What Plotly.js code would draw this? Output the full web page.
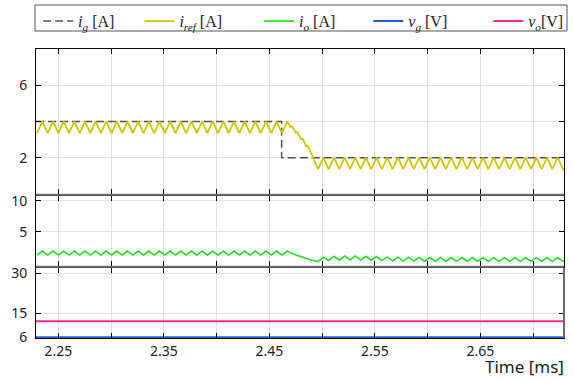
<!DOCTYPE html>
<html><head><meta charset="utf-8">
<script src="https://cdn.plot.ly/plotly-3.0.1.min.js"></script>
<style>html,body{margin:0;padding:0;background:#fff}#chart{width:573px;height:381px}</style>
</head><body><div id="chart"></div>
<script>
// time axis [ms] for the switching waveforms
const time = [2.2299,2.2349,2.2400,2.2450,2.2501,2.2551,2.2602,2.2652,2.2703,2.2753,2.2804,2.2854,2.2904,2.2954,2.3005,2.3055,2.3106,2.3156,2.3207,2.3257,2.3308,2.3358,2.3409,2.3459,2.3510,2.3560,2.3611,2.3661,2.3712,2.3762,2.3813,2.3863,2.3913,2.3963,2.4014,2.4064,2.4115,2.4165,2.4216,2.4266,2.4317,2.4367,2.4418,2.4468,2.4519,2.4569,2.4620,2.4670,
 2.4700,2.4715,2.4750,2.4765,2.4800,2.4815,2.4850,2.4865,2.4900,2.4917,2.4962,
 2.5012,2.5063,2.5113,2.5164,2.5214,2.5265,2.5315,2.5366,2.5416,2.5466,2.5517,2.5567,2.5618,2.5668,2.5719,2.5769,2.5820,2.5870,2.5921,2.5971,2.6022,2.6072,2.6123,2.6173,2.6224,2.6274,2.6324,2.6375,2.6425,2.6475,2.6526,2.6576,2.6627,2.6677,2.6728,2.6778,2.6829,2.6879,2.6930,2.6980,2.7031,2.7081,2.7132,2.7182,2.7233,2.7283,2.7293];
// i_ref [A]
const iRef = [3.36,4.00,3.36,4.00,3.36,4.00,3.36,4.00,3.36,4.00,3.36,4.00,3.36,4.00,3.36,4.00,3.36,4.00,3.36,4.00,3.36,4.00,3.36,4.00,3.36,4.00,3.36,4.00,3.36,4.00,3.36,4.00,3.36,4.00,3.36,4.00,3.36,4.00,3.36,4.00,3.36,4.00,3.36,4.00,3.36,4.00,3.36,4.00,
 3.70,3.73,3.38,3.41,3.03,3.06,2.64,2.66,2.20,1.95,1.37,
 2.00,1.37,2.00,1.37,2.00,1.37,2.00,1.37,2.00,1.37,2.00,1.37,2.00,1.37,2.00,1.37,2.00,1.37,2.00,1.37,2.00,1.37,2.00,1.37,2.00,1.37,2.00,1.37,2.00,1.37,2.00,1.37,2.00,1.37,2.00,1.37,2.00,1.37,2.00,1.37,2.00,1.37,2.00,1.37,2.00,1.37,1.45];
// i_o [A]
const iO = [1.20,1.85,1.20,1.85,1.20,1.85,1.20,1.85,1.20,1.85,1.20,1.85,1.20,1.85,1.20,1.85,1.20,1.85,1.20,1.85,1.20,1.85,1.20,1.85,1.20,1.85,1.20,1.85,1.20,1.85,1.20,1.85,1.20,1.85,1.20,1.85,1.20,1.85,1.20,1.85,1.20,1.85,1.20,1.85,1.20,1.85,1.20,1.85,
 1.55,1.42,1.25,1.12,0.95,0.85,0.58,0.48,0.36,0.30,0.13,
 0.85,0.30,1.00,0.35,1.05,0.40,1.05,0.40,1.00,0.35,0.95,0.30,0.90,0.25,0.85,0.22,0.85,0.22,0.82,0.20,0.80,0.20,0.80,0.18,0.78,0.18,0.78,0.18,0.78,0.18,0.78,0.17,0.77,0.17,0.77,0.17,0.77,0.17,0.77,0.17,0.77,0.17,0.77,0.17,0.77,0.17,0.25];
// i_g [A] (step)
const tG = [2.2289,2.4617,2.4617,2.7293];
const iG = [4,4,2,2];
// voltages [V]
const tV = [2.2289,2.7293];
const vG = [6,6];
const vO = [12,12];
// tick labels
const xTicks = [2.25,2.30,2.35,2.40,2.45,2.50,2.55,2.60,2.65,2.70];
const xTickText = ['2.25','','2.35','','2.45','','2.55','','2.65',''];
const y1Ticks = [2,4,6]; const y1Text = ['2','','6'];
const y2Ticks = [5,10];
const y3Ticks = [6,15,30];
// legend names
const nb = n => '\u00A0'.repeat(n);
const names = ['<i>i</i><sub><i>g</i></sub> [A]' + nb(5), '<i>i</i><sub><i>ref</i></sub> [A]' + nb(8),
  '<i>i</i><sub><i>o</i></sub> [A]' + nb(7), '<i>v</i><sub><i>g</i></sub> [V]' + nb(9), '<i>v</i><sub><i>o</i></sub>[V]'];

const xr = [2.2289, 2.7293];
const axBase = {range: xr, showline: true, linecolor: '#000', linewidth: 1, mirror: 'ticks',
  ticks: 'inside', ticklen: 5, tickcolor: '#000', showgrid: true, gridcolor: '#e2e2e2', gridwidth: 1,
  zeroline: false, tickvals: xTicks, ticktext: xTickText, fixedrange: true};
const yBase = {showline: true, linecolor: '#000', linewidth: 1, mirror: 'ticks', ticks: 'inside', ticklen: 5,
  tickcolor: '#000', showgrid: true, gridcolor: '#e2e2e2', gridwidth: 1, zeroline: false, fixedrange: true,
  ticklabelstandoff: 5, tickfont: {family: 'Noto Sans', size: 14, color: '#222'}};

const traces = [
  {x: tG, y: iG, name: names[0], mode: 'lines', xaxis: 'x', yaxis: 'y',
   line: {color: '#505050', width: 1.5, dash: '8px,4px'}},
  {x: time, y: iRef, name: names[1], mode: 'lines', xaxis: 'x', yaxis: 'y',
   line: {color: '#cfc800', width: 1.8}},
  {x: time, y: iO, name: names[2], mode: 'lines', xaxis: 'x2', yaxis: 'y2',
   line: {color: '#22e022', width: 1.6}},
  {x: tV, y: vG, name: names[3], mode: 'lines', xaxis: 'x3', yaxis: 'y3',
   line: {color: '#1f5fd6', width: 2}},
  {x: tV, y: vO, name: names[4], mode: 'lines', xaxis: 'x3', yaxis: 'y3',
   line: {color: '#ff2d90', width: 2}}
];

const layout = {
  width: 573, height: 381,
  margin: {l: 36, r: 9, t: 49, b: 43, autoexpand: false},
  paper_bgcolor: '#fff', plot_bgcolor: '#fff',
  font: {family: 'Noto Sans', size: 14, color: '#222'},
  showlegend: true,
  legend: {orientation: 'h', x: 0.004, xanchor: 'left', y: 1.155, yanchor: 'top',
    borderwidth: 0, bgcolor: 'rgba(0,0,0,0)',
    font: {family: 'Liberation Serif', size: 16, color: '#222'}},
  xaxis: Object.assign({}, axBase, {anchor: 'y', showticklabels: false}),
  xaxis2: Object.assign({}, axBase, {anchor: 'y2', matches: 'x', showticklabels: false}),
  xaxis3: Object.assign({}, axBase, {anchor: 'y3', matches: 'x',
    tickfont: {family: 'Noto Sans', size: 14, color: '#222'}}),
  yaxis: Object.assign({}, yBase, {domain: [0.4983, 1], range: [0, 8], tickvals: y1Ticks, ticktext: y1Text}),
  yaxis2: Object.assign({}, yBase, {domain: [0.2491, 0.4913], range: [-0.59, 10.81], tickvals: y2Ticks}),
  yaxis3: Object.assign({}, yBase, {domain: [0, 0.2422], range: [5.74, 32], tickvals: y3Ticks}),
  shapes: [
    {type: 'rect', xref: 'paper', yref: 'paper', x0: -0.0019, x1: 1.0057, y0: 1.0623, y1: 1.1522,
     line: {color: '#555', width: 1}, fillcolor: 'rgba(0,0,0,0)', layer: 'above'},
    {type: 'line', xref: 'paper', yref: 'paper', x0: 0, x1: 1, y0: 0.4955, y1: 0.4955,
     line: {color: '#707070', width: 2}, layer: 'above'},
    {type: 'line', xref: 'paper', yref: 'paper', x0: 0, x1: 1, y0: 0.2464, y1: 0.2464,
     line: {color: '#707070', width: 2}, layer: 'above'},
    {type: 'line', xref: 'paper', yref: 'paper', x0: 1, x1: 1, y0: 0, y1: 0.2422,
     line: {color: '#6a6a6a', width: 2}, layer: 'above'}
  ],
  annotations: [
    {text: 'Time [ms]', xref: 'paper', yref: 'paper', x: 1.004, y: -0.1, xanchor: 'right', yanchor: 'middle',
     showarrow: false, font: {family: 'Noto Sans', size: 17, color: '#222'}}
  ]
};

Plotly.newPlot('chart', traces, layout, {staticPlot: true, displayModeBar: false});
</script>
</body></html>
